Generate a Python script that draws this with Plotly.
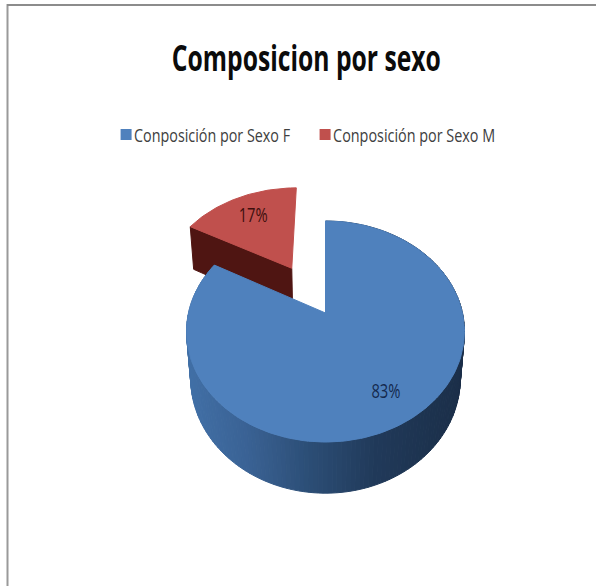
import math
import plotly.graph_objects as go

# Chart content
title_text = "Composicion por sexo"
categories = ["Conposición por Sexo F", "Conposición por Sexo M"]
shares = [83, 17]

# Drawing styles
TOP_COLORS = ["#4F81BD", "#C0504D"]
WALL_RED = "#4F1512"
FONT = "Open Sans, sans-serif"

# Oblique projection of the pie cylinder onto the page, in page pixels
CX, CY = 325.5, 313.0
SCALE_X, SCALE_Y = 137.0, 107.4
TILT = 0.1675
DEPTH = 48.0
DEPTH_SHRINK = 0.03
EXPLODE = 0.52


def project(u, v, z=0.0):
    w = 1 + TILT * v + DEPTH_SHRINK * z
    return CX + SCALE_X * u / w, CY - (SCALE_Y * v - DEPTH * z) / w


def rim(theta_deg, off=(0.0, 0.0), radius=1.0, z=0.0):
    t = math.radians(theta_deg)
    return project(off[0] + radius * math.sin(t), off[1] + radius * math.cos(t), z)


def angle_steps(start, end, n):
    return [start + (end - start) * i / n for i in range(n + 1)]


def polygon(points, color, line_width=1.0):
    return go.Scatter(
        x=[p[0] for p in points] + [points[0][0]],
        y=[p[1] for p in points] + [points[0][1]],
        mode="lines",
        fill="toself",
        fillcolor=color,
        line=dict(color=color, width=line_width),
        hoverinfo="skip",
        showlegend=False,
    )


def wall_shade(x):
    # Horizontal shading of the curved wall: lit on the left, dark on the right
    stops = [(186, (66, 113, 168)), (250, (58, 98, 148)), (310, (44, 78, 118)),
             (375, (33, 58, 90)), (430, (29, 51, 79)), (466, (27, 46, 72))]
    for (x0, c0), (x1, c1) in zip(stops, stops[1:]):
        if x <= x1:
            f = max(0.0, (x - x0) / (x1 - x0))
            return "rgb(%d,%d,%d)" % tuple(a + (b - a) * f for a, b in zip(c0, c1))
    return "rgb(%d,%d,%d)" % stops[-1][1]


total = sum(shares)
sweep_f = 360.0 * shares[0] / total
mid_m = sweep_f + 180.0 * shares[1] / total
off_m = (EXPLODE * math.sin(math.radians(mid_m)), EXPLODE * math.cos(math.radians(mid_m)))

fig = go.Figure()

# Exploded slice: side walls first, then the top face
arc_m = angle_steps(sweep_f, 360.0, 40)
left_cut = [project(*off_m), rim(sweep_f, off_m), rim(sweep_f, off_m, z=1.0), project(*off_m, 1.0)]
fig.add_trace(polygon(left_cut, WALL_RED))
fig.add_trace(polygon([rim(a, off_m) for a in arc_m] + [project(*off_m)], TOP_COLORS[1]))

# Large slice: wall strips from the back of the cylinder to the front
arc_f = angle_steps(0.0, sweep_f, 180)
pairs = sorted(zip(arc_f, arc_f[1:]), key=lambda p: math.cos(math.radians(p[0])), reverse=True)
for a0, a1 in pairs:
    quad = [rim(a0), rim(a1), rim(a1, z=1.0), rim(a0, z=1.0)]
    fig.add_trace(polygon(quad, wall_shade(sum(p[0] for p in quad) / 4)))
fig.add_trace(polygon([rim(a) for a in arc_f] + [project(0, 0)], TOP_COLORS[0]))

# Legend entries
for name, color in zip(categories, TOP_COLORS):
    fig.add_trace(go.Scatter(
        x=[None], y=[None], mode="markers", name=name,
        marker=dict(symbol="square", size=11, color=color),
    ))

# Percentage labels placed along each slice's mid-angle
mid_f = sweep_f / 2
label_f = rim(mid_f, radius=0.77)
label_m = rim(mid_m, off_m, radius=0.70)
fig.add_trace(go.Scatter(
    x=[label_f[0], label_m[0]], y=[label_f[1], label_m[1]],
    mode="text",
    text=["%d%%" % shares[0], "%d%%" % shares[1]],
    textposition="middle center",
    textfont=dict(family=FONT, size=20, color=["#14294d", "#3d0f0d"]),
    hoverinfo="skip",
    showlegend=False,
))

fig.update_layout(
    width=596, height=586,
    margin=dict(l=0, r=0, t=0, b=0),
    paper_bgcolor="white", plot_bgcolor="white",
    xaxis=dict(range=[0, 596], visible=False, fixedrange=True),
    yaxis=dict(range=[586, 0], visible=False, fixedrange=True),
    title=dict(
        text=title_text, x=0.514, xanchor="center", y=0.9, yanchor="middle",
        font=dict(family=FONT, size=35, color="#0b0b0b", weight="bold"),
    ),
    legend=dict(
        orientation="h", x=0.178, y=0.77, xanchor="left", yanchor="middle",
        font=dict(family=FONT, size=18, color="#404040"),
        bgcolor="rgba(0,0,0,0)", itemwidth=30,
        entrywidth=154, entrywidthmode="pixels",
    ),
    shapes=[
        dict(type="line", xref="paper", yref="paper", x0=7.5 / 596, x1=7.5 / 596, y0=0, y1=1 - 4 / 586,
             line=dict(color="#9a9a9a", width=2)),
        dict(type="line", xref="paper", yref="paper", x0=7 / 596, x1=1, y0=1 - 5 / 586, y1=1 - 5 / 586,
             line=dict(color="#8c8c8c", width=2)),
    ],
)

# The chart uses a condensed face; squeeze the glyphs to the wanted text widths
CONDENSE_TEXT = """
var gd = document.getElementById('{plot_id}');
function fit(el, width) {
  el.setAttribute('textLength', width);
  el.setAttribute('lengthAdjust', 'spacingAndGlyphs');
}
gd.querySelectorAll('.gtitle').forEach(function (el) { fit(el, 269); });
gd.querySelectorAll('.legendtext').forEach(function (el, i) {
  el.setAttribute('x', parseFloat(el.getAttribute('x')) - 12);
  fit(el, [156, 162][i]);
});
gd.querySelectorAll('.textpoint text').forEach(function (el) { fit(el, 29); });
"""

fig.write_html("out.html", post_script=CONDENSE_TEXT)
